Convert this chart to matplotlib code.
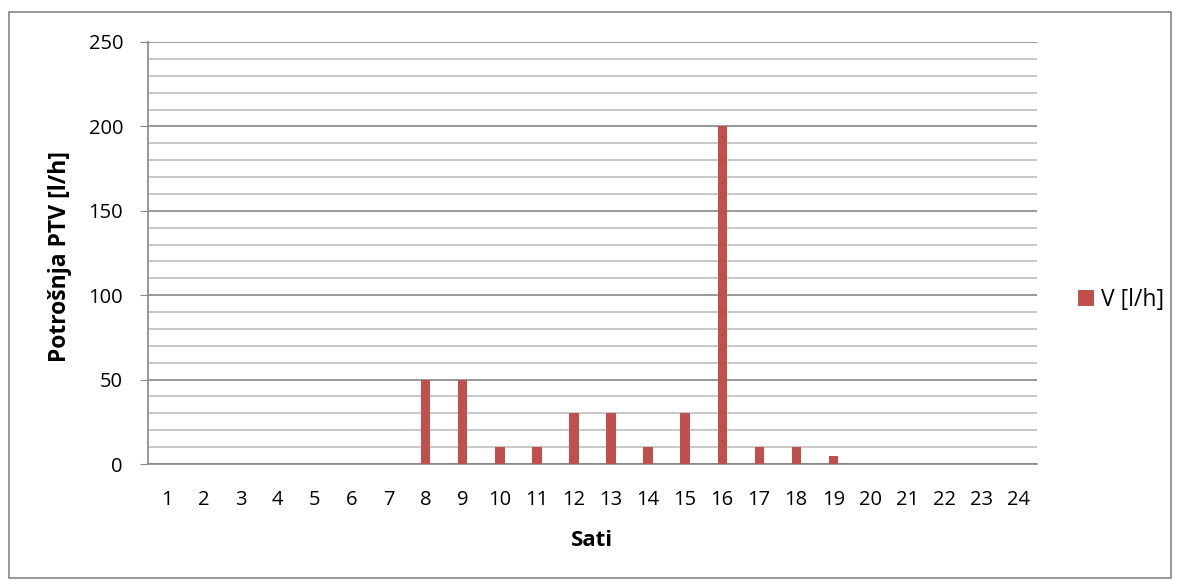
import matplotlib.pyplot as plt
from matplotlib.patches import Rectangle
from matplotlib.ticker import MultipleLocator

plt.rcParams['font.family'] = ['Open Sans', 'DejaVu Sans']

# hours and hot water consumption
sati = [str(h) for h in range(1, 25)]
potrosnja = [0, 0, 0, 0, 0, 0, 0, 50, 50, 10, 10, 30, 30, 10, 30, 200, 10, 10, 5, 0, 0, 0, 0, 0]

fig = plt.figure(figsize=(11.82, 5.81), dpi=100)
ax = fig.add_axes([148 / 1182, 1 - 464 / 581, (1037 - 148) / 1182, (464 - 42) / 581])

# outer chart border
fig.patches.append(Rectangle((9 / 1182, 1 - 578 / 581), 1162 / 1182, 566 / 581,
                             transform=fig.transFigure, fill=False,
                             edgecolor='#868686', linewidth=1.2))

x = range(len(sati))
ax.bar(x, potrosnja, width=0.25, color='#C0504D', label='V [l/h]', zorder=3)

ax.set_xlim(-0.5, len(sati) - 0.5)
ax.set_ylim(0, 250)
ax.set_xticks(list(x))
ax.set_xticklabels(sati)
ax.yaxis.set_major_locator(MultipleLocator(50))
ax.yaxis.set_minor_locator(MultipleLocator(10))

ax.grid(which='minor', axis='y', color='#BFBFBF', linewidth=1.2, zorder=0)
ax.grid(which='major', axis='y', color='#868686', linewidth=1.2, zorder=1)

for s in ['top', 'right']:
    ax.spines[s].set_visible(False)
ax.spines['left'].set_color('#868686')
ax.spines['bottom'].set_color('#868686')
ax.spines['left'].set_linewidth(1.2)
ax.spines['bottom'].set_linewidth(1.2)

ax.tick_params(axis='x', length=0, labelsize=14.5, pad=19)
ax.tick_params(axis='y', which='major', length=6, color='#868686', labelsize=14.5, pad=12)
ax.tick_params(axis='y', which='minor', length=0)

ax.set_xlabel('Sati', fontsize=16, fontweight='bold', va='center')
ax.set_ylabel('Potrošnja PTV [l/h]', fontsize=16.5, fontweight='bold', va='center')
ax.xaxis.set_label_coords((592 - 148) / 889, (464 - 540) / 422)
ax.yaxis.set_label_coords((60 - 148) / 889, (464 - 257) / 422)

ax.legend(loc='center left', bbox_to_anchor=(1.046, 0.389), frameon=False,
          borderpad=0, borderaxespad=0,
          fontsize=16.5, handlelength=0.72, handleheight=0.72, handletextpad=0.3)

fig.savefig('out.png', dpi=100)
